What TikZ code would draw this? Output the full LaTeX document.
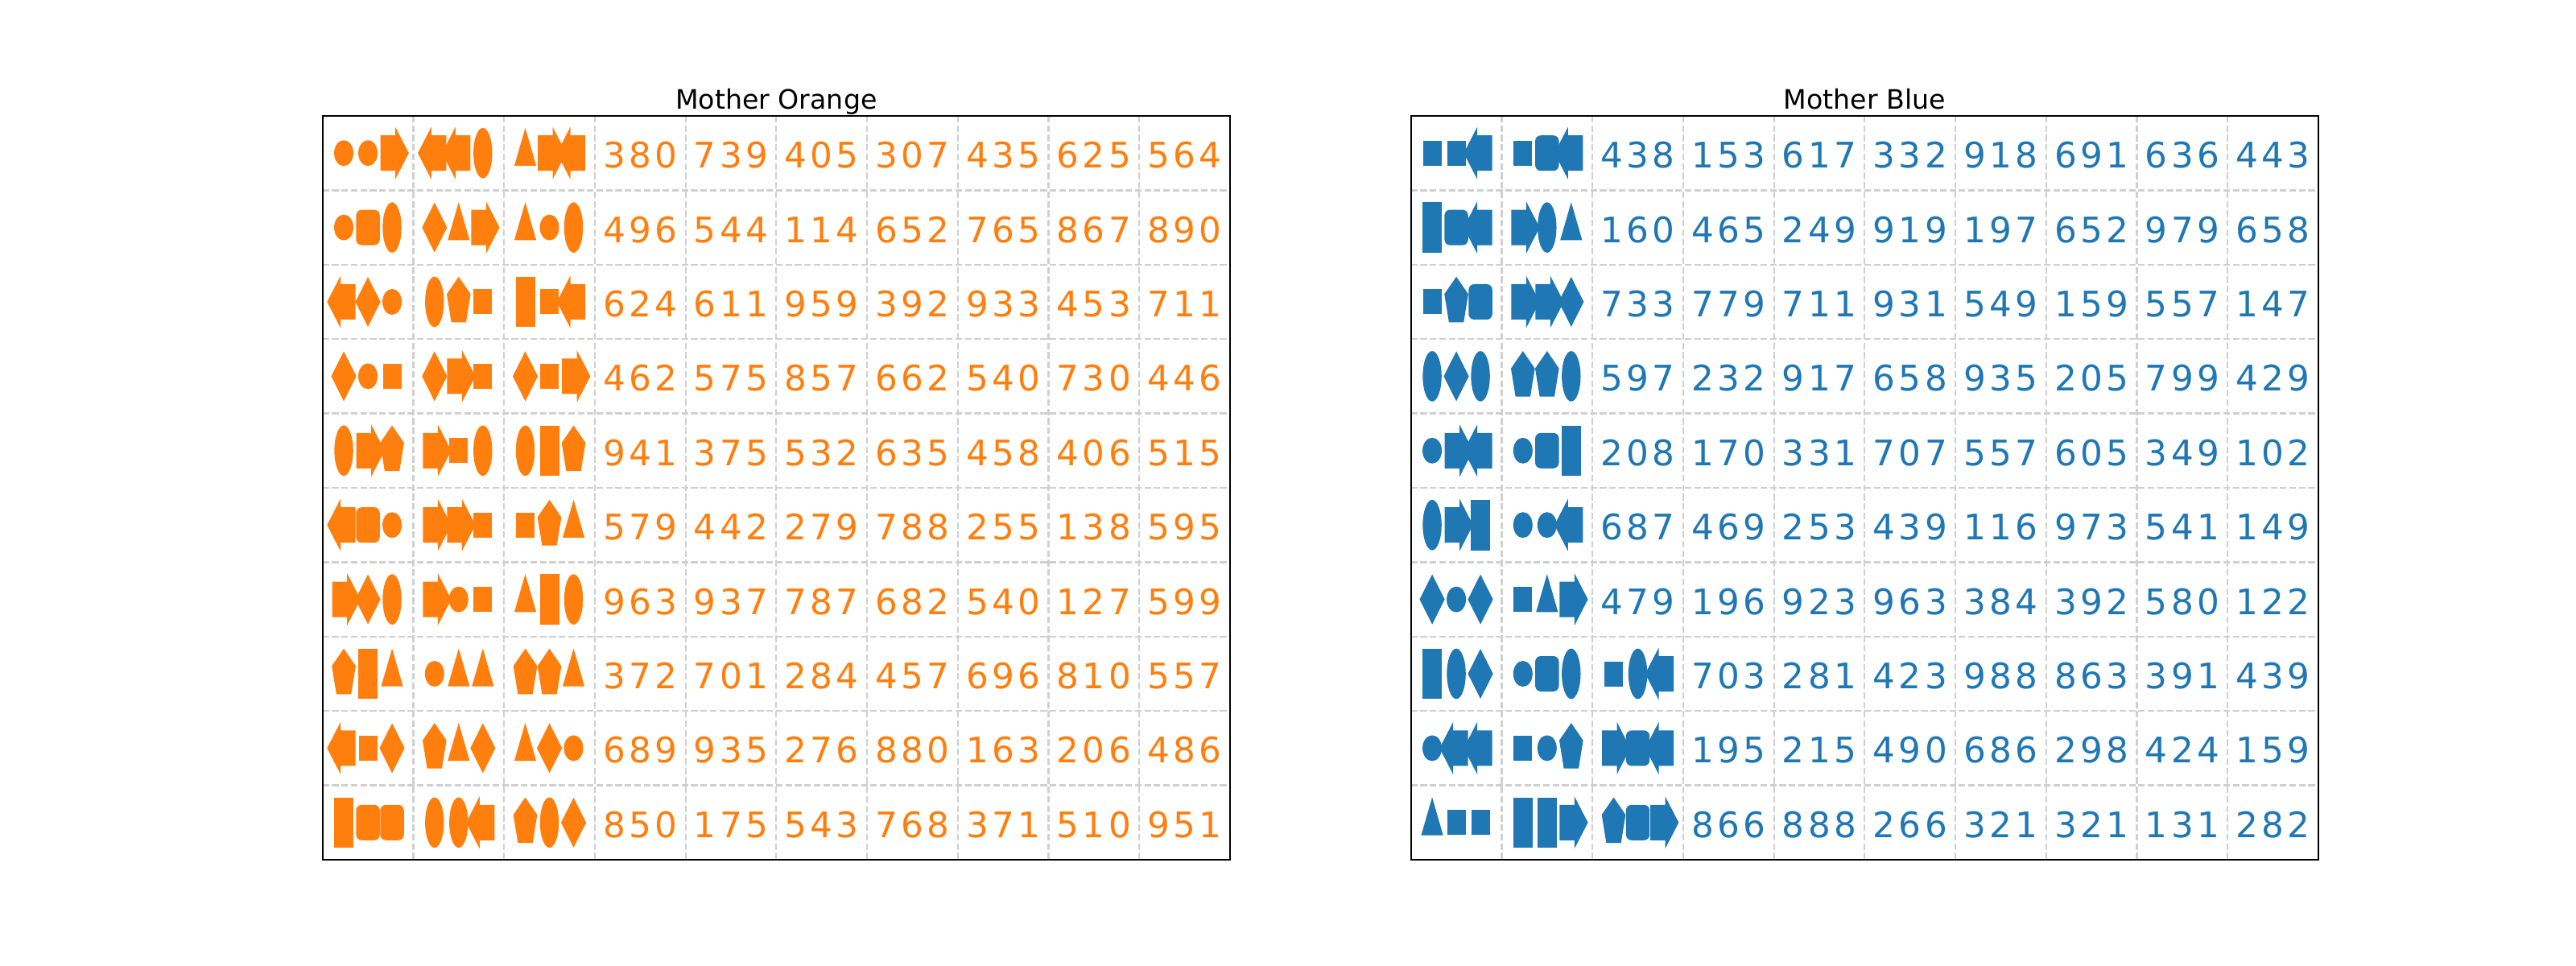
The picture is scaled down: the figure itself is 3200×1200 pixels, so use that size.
\documentclass[tikz,border=0pt]{standalone}
\usepackage{fontspec}
\setmainfont{DejaVu Sans}
\newfontfamily\numfont[LetterSpace=10]{DejaVu Sans}
\definecolor{morange}{HTML}{FF7F0E}
\definecolor{mblue}{HTML}{1F77B4}
\definecolor{gridgray}{HTML}{D0D0D0}
\tikzset{
  numtext/.style={font=\numfont\fontsize{15.8}{18}\selectfont, text=\pancol, anchor=base, inner sep=0pt},
  titletext/.style={font=\fontsize{12}{14}\selectfont, anchor=base, inner sep=0pt},
  gridline/.style={gridgray, line width=0.8pt, dash pattern=on 2.96pt off 1.28pt},
  frameline/.style={black, line width=0.8pt}
}
% cell size in px
\newcommand{\colw}{112.73}
\newcommand{\rowh}{92.4}
% the shapes, centred on the slot
\newcommand{\shpdot}{\fill[\pancol] (0,0) ellipse [x radius=12, y radius=16];}
\newcommand{\shpsq}{\fill[\pancol] (-11.5,-15.5) rectangle (11.5,15.5);}
\newcommand{\shpbar}{\fill[\pancol] (-12,-31.3) rectangle (12,31.3);}
\newcommand{\shpoval}{\fill[\pancol] (0,0) ellipse [x radius=11.7, y radius=31.3];}
\newcommand{\shprbox}{\fill[\pancol,rounded corners=2.5pt] (-14.7,-22) rectangle (14.7,22);}
\newcommand{\shpkite}{\fill[\pancol] (0,-31) -- (15.6,0) -- (0,31) -- (-15.6,0) -- cycle;}
\newcommand{\shptri}{\fill[\pancol] (0,-31.4) -- (13.6,15.7) -- (-13.6,15.7) -- cycle;}
\newcommand{\shppenta}{\fill[\pancol] (0,-31.3) -- (14.84,-9.67) -- (9.17,25.32)
  -- (-9.17,25.32) -- (-14.84,-9.67) -- cycle;}
\newcommand{\shprarr}{\fill[\pancol] (-14.5,-22) -- (4,-22) -- (4,-32.5) -- (20.8,0)
  -- (4,32.5) -- (4,22) -- (-14.5,22) -- cycle;}
\newcommand{\shplarr}{\fill[\pancol] (14.5,-22) -- (-4,-22) -- (-4,-32.5) -- (-20.8,0)
  -- (-4,32.5) -- (-4,22) -- (14.5,22) -- cycle;}
% one row: #1 row, #2 first number column, #3 shape cells, #4 numbers
\newcommand{\motherrow}[4]{%
  \foreach \sa/\sb/\sc [count=\c] in {#3} {
    \foreach \s/\dx in {\sa/-30,\sb/0,\sc/30} {
      \begin{scope}[shift={({(\c-0.5)*\colw+(\dx)},{(#1-0.5)*\rowh})}]
        \csname shp\s\endcsname
      \end{scope}
    }
  }
  \foreach \n [count=\k from #2] in {#4}
    \node[numtext] (\pname-\k-#1) at ({(\k-0.5)*\colw},{(#1-0.5)*\rowh+18.5}) {\n};
}
\begin{document}
\begin{tikzpicture}[x=0.127mm,y=-0.127mm]
\useasboundingbox (0,0) rectangle (3200,1200);

% Mother Orange
\begin{scope}[shift={(400.7,144)}]
\def\pancol{morange}\def\pname{orange}
\foreach \i in {1,...,9} \draw[gridline] (\i*\colw,0) -- (\i*\colw,10*\rowh);
\foreach \j in {1,...,9} \draw[gridline] (0,\j*\rowh) -- (10*\colw,\j*\rowh);
\motherrow{1}{4}{dot/dot/rarr, larr/larr/oval, tri/rarr/larr}{380,739,405,307,435,625,564}
\motherrow{2}{4}{dot/rbox/oval, kite/tri/rarr, tri/dot/oval}{496,544,114,652,765,867,890}
\motherrow{3}{4}{larr/kite/dot, oval/penta/sq, bar/sq/larr}{624,611,959,392,933,453,711}
\motherrow{4}{4}{kite/dot/sq, kite/rarr/sq, kite/sq/rarr}{462,575,857,662,540,730,446}
\motherrow{5}{4}{oval/rarr/penta, rarr/sq/oval, oval/bar/penta}{941,375,532,635,458,406,515}
\motherrow{6}{4}{larr/rbox/dot, rarr/rarr/sq, sq/penta/tri}{579,442,279,788,255,138,595}
\motherrow{7}{4}{rarr/kite/oval, rarr/dot/sq, tri/bar/oval}{963,937,787,682,540,127,599}
\motherrow{8}{4}{penta/bar/tri, dot/tri/tri, penta/penta/tri}{372,701,284,457,696,810,557}
\motherrow{9}{4}{larr/sq/kite, penta/tri/kite, tri/kite/dot}{689,935,276,880,163,206,486}
\motherrow{10}{4}{bar/rbox/rbox, oval/oval/larr, penta/oval/kite}{850,175,543,768,371,510,951}
\draw[frameline] (0,0) rectangle (10*\colw,10*\rowh);
\node[titletext] (orange-title) at (5*\colw,-8.3) {Mother Orange};
\end{scope}

% Mother Blue
\begin{scope}[shift={(1752.7,144)}]
\def\pancol{mblue}\def\pname{blue}
\foreach \i in {1,...,9} \draw[gridline] (\i*\colw,0) -- (\i*\colw,10*\rowh);
\foreach \j in {1,...,9} \draw[gridline] (0,\j*\rowh) -- (10*\colw,\j*\rowh);
\motherrow{1}{3}{sq/sq/larr, sq/rbox/larr}{438,153,617,332,918,691,636,443}
\motherrow{2}{3}{bar/rbox/larr, rarr/oval/tri}{160,465,249,919,197,652,979,658}
\motherrow{3}{3}{sq/penta/rbox, rarr/rarr/kite}{733,779,711,931,549,159,557,147}
\motherrow{4}{3}{oval/kite/oval, penta/penta/oval}{597,232,917,658,935,205,799,429}
\motherrow{5}{3}{dot/rarr/larr, dot/rbox/bar}{208,170,331,707,557,605,349,102}
\motherrow{6}{3}{oval/rarr/bar, dot/dot/larr}{687,469,253,439,116,973,541,149}
\motherrow{7}{3}{kite/dot/kite, sq/tri/rarr}{479,196,923,963,384,392,580,122}
\motherrow{8}{4}{bar/oval/kite, dot/rbox/oval, sq/oval/larr}{703,281,423,988,863,391,439}
\motherrow{9}{4}{dot/larr/larr, sq/dot/penta, rarr/rbox/larr}{195,215,490,686,298,424,159}
\motherrow{10}{4}{tri/sq/sq, bar/bar/rarr, penta/rbox/rarr}{866,888,266,321,321,131,282}
\draw[frameline] (0,0) rectangle (10*\colw,10*\rowh);
\node[titletext] (blue-title) at (5*\colw,-8.3) {Mother Blue};
\end{scope}
\end{tikzpicture}
\end{document}
